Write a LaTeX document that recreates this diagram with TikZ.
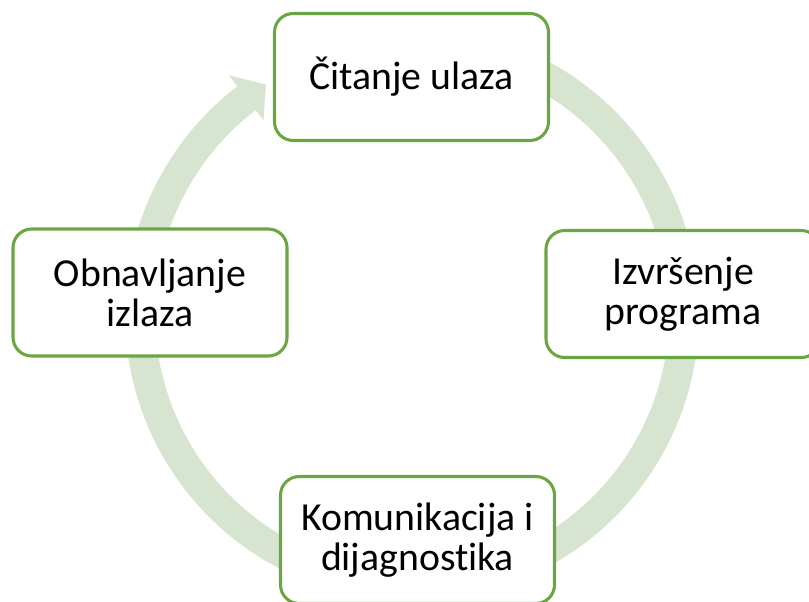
\documentclass[tikz,border=0pt]{standalone}
\usepackage{fontspec}
\setmainfont{Carlito}[RawFeature=-liga]
\definecolor{ringgreen}{HTML}{D7E4CF}
\definecolor{boxgreen}{HTML}{6AA642}
\newcommand{\cycarrow}[3]{%
  \fill[ringfill] ([shift={(c)}]#1:287) arc[start angle=#1, end angle=#2, radius=287]
    -- ([shift={(c)}]#2:301) -- ([shift={(c)}]#3:272) -- ([shift={(c)}]#2:244)
    -- ([shift={(c)}]#2:257) arc[start angle=#2, end angle=#1, radius=257] -- cycle;}
\begin{document}
\begin{tikzpicture}[x=0.75pt,y=0.75pt,
  ringfill/.style={fill=ringgreen},
  cyclebox/.style={draw=boxgreen, line width=2.3pt, fill=white, rounded corners=14pt,
    minimum width=205.5pt, minimum height=95.25pt, inner sep=0pt, align=center,
    font=\fontsize{29.8}{30}\selectfont, text=black}]
\useasboundingbox (0,0) rectangle (809,601);
\coordinate (c) at (412,287);
% ring arrows (clockwise)
\cycarrow{65}{12}{7}
\cycarrow{-5}{-65}{-70}
\cycarrow{-110}{-176}{-181}
\cycarrow{170}{127.5}{122.5}
% nodes
\node[cyclebox] (top) at (411.5,524) {Čitanje ulaza};
\node[cyclebox] (right) at (683,307) {Izvršenje\\programa};
\node[cyclebox] (bottom) at (417.5,61) {Komunikacija i\\dijagnostika};
\node[cyclebox] (left) at (150,308.5) {Obnavljanje\\izlaza};
\end{tikzpicture}
\end{document}
